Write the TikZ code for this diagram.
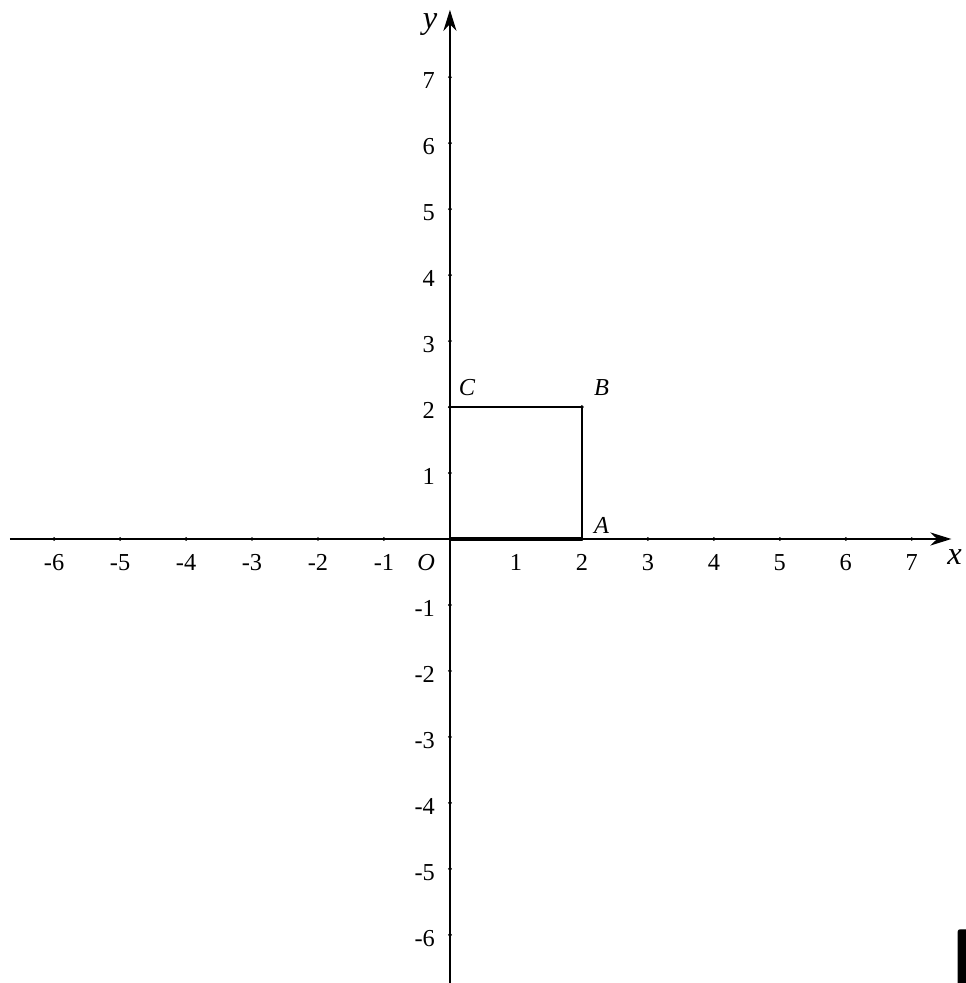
\documentclass[tikz,border=0pt]{standalone}
\usepackage{fontspec}
\setmainfont{Liberation Serif}
\usetikzlibrary{arrows.meta}

\begin{document}
\begin{tikzpicture}[>={Stealth[length=3.2mm,width=2mm]}, line width=0.6pt,
  font=\fontsize{10.5}{12}\selectfont,
  tick/.style={fill, radius=0.03}]
\useasboundingbox (-6.82,-6.73) rectangle (7.82,8.17);
\clip (-6.82,-6.73) rectangle (7.82,8.17);
% 坐标轴
\coordinate (xl) at (-6.67,0);
\coordinate (xr) at (7.6,0);
\coordinate (yb) at (0,-6.75);
\coordinate (yt) at (0,8.02);
\draw[->] (xl) -- (xr);
\draw[->] (yb) -- (yt);
\node (xlab) at (7.65,-0.27) {\fontsize{14}{16}\selectfont\textit{x}};
\node (ylab) at (-0.3,7.8) {\fontsize{14}{16}\selectfont\textit{y}};
% 刻度
\foreach \x in {-6,...,-1,1,2,...,7} {
  \fill[tick] (\x,0) circle;
  \node (tx\x) at (\x,-0.36) {\x};
}
\foreach \y in {-6,...,-1,1,2,...,7} {
  \fill[tick] (0,\y) circle;
  \node[anchor=east] (ty\y) at (-0.1,\y-0.05) {\y};
}
% 正方形 OABC
\coordinate (O) at (0,0);
\coordinate (A) at (2,0);
\coordinate (B) at (2,2);
\coordinate (C) at (0,2);
\draw (A) -- (B) -- (C);
\draw[line width=1.3pt] (O) -- (A);
\foreach \p in {A,B,C} \fill[tick] (\p) circle;
\node (Olab) at (-0.36,-0.36) {\textit{O}};
\node (Alab) at (2.3,0.2) {\textit{A}};
\node (Blab) at (2.3,2.3) {\textit{B}};
\node (Clab) at (0.26,2.3) {\textit{C}};
% 右下角
\node[anchor=north west, inner sep=0pt, font=\fontsize{28}{28}\sffamily\bfseries] (br) at (7.6,-5.92) {[};
\end{tikzpicture}
\end{document}
